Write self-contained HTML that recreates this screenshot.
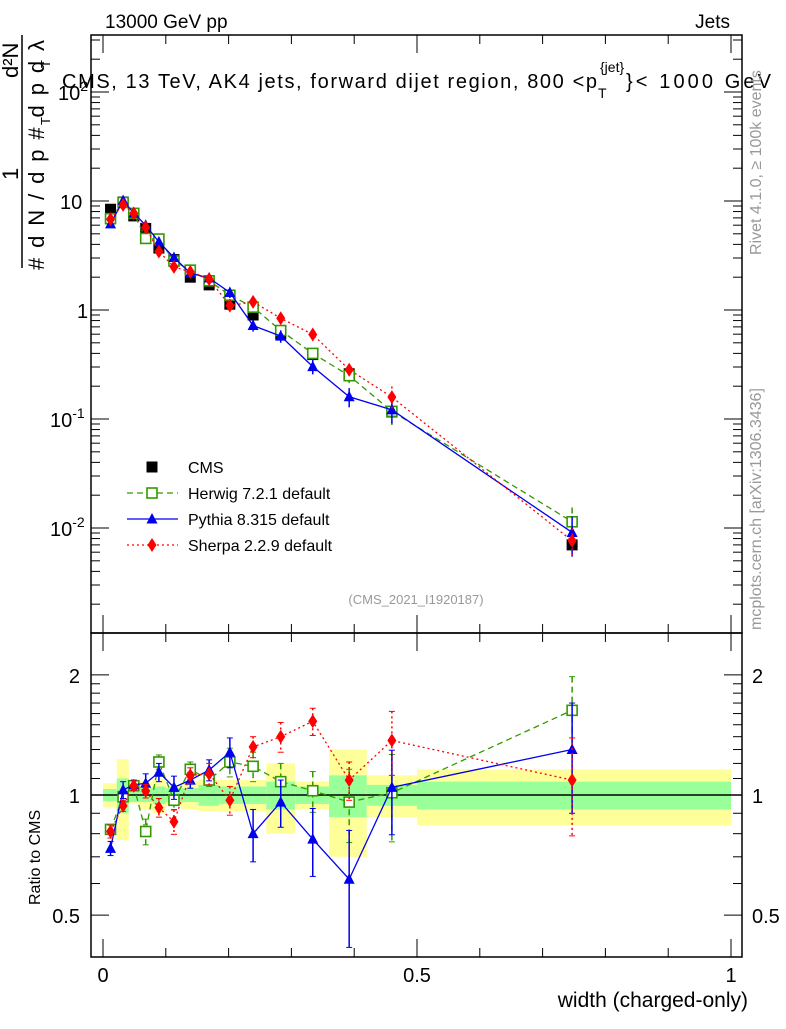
<!DOCTYPE html>
<html><head><meta charset="utf-8"><style>
body{margin:0;background:#fff;width:786px;height:1024px;overflow:hidden}
svg{font-family:"Liberation Sans",sans-serif}
</style></head><body>
<svg id="c" width="786" height="1024" xmlns="http://www.w3.org/2000/svg"></svg>
<script>
const xcent=[0.012,0.032,0.049,0.068,0.089,0.113,0.139,0.169,0.202,0.239,0.283,0.334,0.392,0.460,0.747];
const edges=[0,0.022,0.041,0.058,0.079,0.1,0.125,0.152,0.185,0.22,0.26,0.306,0.36,0.42,0.5,1.0];
const cms=[8.4,9.8,7.3,5.6,3.7,2.9,2.0,1.7,1.13,0.9,0.6,0.39,0.26,0.116,0.007];
const herwigR=[0.82,0.99,1.055,0.81,1.21,0.97,1.16,1.09,1.21,1.18,1.08,1.025,0.96,1.013,1.63];
const pythiaR=[0.735,1.03,1.06,1.07,1.14,1.045,1.09,1.155,1.28,0.80,0.96,0.775,0.615,1.045,1.30];
const sherpaR=[0.81,0.94,1.055,1.023,0.93,0.857,1.12,1.13,0.97,1.32,1.40,1.53,1.09,1.37,1.09];
const herwigE=[0.02,0.03,0.03,0.06,0.05,0.05,0.05,0.04,0.1,0.1,0.12,0.12,0.2,0.25,0.35];
const pythiaE=[0.03,0.05,0.03,0.06,0.06,0.07,0.05,0.07,0.11,0.12,0.13,0.15,0.2,0.25,0.4];
const sherpaE=[0.03,0.03,0.03,0.04,0.05,0.06,0.05,0.07,0.08,0.08,0.12,0.12,0.12,0.25,0.3];
const greenB=[0.035,0.1,0.04,0.04,0.05,0.04,0.04,0.06,0.05,0.05,0.08,0.05,0.12,0.06,0.08];
const yellowB=[0.07,0.23,0.05,0.08,0.1,0.06,0.08,0.09,0.09,0.09,0.2,0.08,0.3,0.12,0.16];
const xTicks=[0,0.5,1];
const xTickLabels=["0","0.5","1"];

const svg=document.getElementById('c');
const NS='http://www.w3.org/2000/svg';
function el(t,a,txt){const e=document.createElementNS(NS,t);for(const k in a)e.setAttribute(k,a[k]);if(txt!==undefined)e.textContent=txt;svg.appendChild(e);return e;}
const L=91,R=742,T=35,M=633,B=957;
const X=v=>103+628*v;
const Y=v=>310-109*Math.log10(v);
const YR=r=>795-399*Math.log10(r);

for(let i=0;i<xcent.length;i++){
 let r=el('rect',{x:X(edges[i]),y:YR(1+yellowB[i]),width:X(edges[i+1])-X(edges[i]),height:YR(1-yellowB[i])-YR(1+yellowB[i]),fill:'#ffff99'});
 
 let g=el('rect',{x:X(edges[i]),y:YR(1+greenB[i]),width:X(edges[i+1])-X(edges[i]),height:YR(1-greenB[i])-YR(1+greenB[i]),fill:'#99ff99'});
 
}
let ol=el('line',{x1:L,x2:R,y1:795,y2:795,stroke:'#000','stroke-width':1.5});


let f1=el('rect',{x:L,y:T,width:R-L,height:M-T,fill:'none',stroke:'#000','stroke-width':1.5});

let f2=el('rect',{x:L,y:M,width:R-L,height:B-M,fill:'none',stroke:'#000','stroke-width':1.5});


for(let d=-3;d<=2;d++){for(let m=1;m<10;m++){const v=m*Math.pow(10,d);const y=Y(v);if(y<T||y>M)continue;const len=m==1?18:9;
 el('line',{x1:L,x2:L+len,y1:y,y2:y,stroke:'#000'});el('line',{x1:R,x2:R-len,y1:y,y2:y,stroke:'#000'});}}
const yl=[[100,'10','2'],[10,'10',''],[1,'1',''],[0.1,'10','-1'],[0.01,'10','-2']];
yl.forEach(a=>{const t=el('text',{x:a[2]==='2'?58:(a[2]?50:(a[1]=='1'?77:60)),y:Y(a[0])+8,'font-size':20});
 t.textContent=a[1]; if(a[2]){const s=document.createElementNS(NS,'tspan');s.setAttribute('dy','-9');s.setAttribute('font-size','14');s.textContent=a[2];t.appendChild(s);}});
[0.5,0.6,0.7,0.8,0.9,1,1.1,1.2,1.3,1.4,1.5,1.6,1.7,1.8,1.9,2].forEach(v=>{const y=YR(v);const big=(v==0.5||v==1||v==2);const len=big?18:9;
 el('line',{x1:L,x2:L+len,y1:y,y2:y,stroke:'#000'});el('line',{x1:R,x2:R-len,y1:y,y2:y,stroke:'#000'});});
[[2,'2'],[1,'1'],[0.5,'0.5']].forEach(a=>{
 let t=el('text',{x:80,y:YR(a[0])+8,'font-size':20,'text-anchor':'end'},a[1]);
 let t2=el('text',{x:752,y:YR(a[0])+8,'font-size':20},a[1]);});
for(let v=0;v<=1.0001;v+=0.1){const big=Math.abs(v-Math.round(v*2)/2)<1e-6;const len=big?18:9;
 el('line',{x1:X(v),x2:X(v),y1:B,y2:B-len,stroke:'#000'});el('line',{x1:X(v),x2:X(v),y1:M,y2:M+len,stroke:'#000'});el('line',{x1:X(v),x2:X(v),y1:T,y2:T+len,stroke:'#000'});el('line',{x1:X(v),x2:X(v),y1:M,y2:M-len,stroke:'#000'});}
xTicks.forEach((v,i)=>{let t=el('text',{x:X(v),y:982,'font-size':20,'text-anchor':'middle'},xTickLabels[i]);});

function marker(kind,x,y,col,name){
 let e;
 if(kind=='sq') e=el('rect',{x:x-5.5,y:y-5.5,width:11,height:11,fill:'#000'});
 else if(kind=='osq') e=el('rect',{x:x-5,y:y-5,width:10,height:10,fill:'#fff',stroke:col,'stroke-width':1.6});
 else if(kind=='tri') e=el('polygon',{points:`${x},${y-6} ${x-5.5},${y+4.5} ${x+5.5},${y+4.5}`,fill:col});
 else e=el('polygon',{points:`${x},${y-7} ${x-4.5},${y} ${x},${y+7} ${x+4.5},${y}`,fill:col});
 
}
const series=[
 {r:herwigR,e:herwigE,col:'#339900',dash:'6,4',kind:'osq',name:'herwig'},
 {r:pythiaR,e:pythiaE,col:'#0000ee',dash:'',kind:'tri',name:'pythia'},
 {r:sherpaR,e:sherpaE,col:'#ff0000',dash:'2,3',kind:'dia',name:'sherpa'}];
xcent.forEach((x,i)=>{const v=cms[i];el('line',{x1:X(x),x2:X(x),y1:Y(v*1.05),y2:Y(v*0.95),stroke:'#000','stroke-width':1.5});marker('sq',X(x),Y(v),'#000','cms-point');});
series.forEach(s=>{
 const pts=xcent.map((x,i)=>X(x)+','+Y(cms[i]*s.r[i])).join(' ');
 let pl=el('polyline',{points:pts,fill:'none',stroke:s.col,'stroke-width':1.3,'stroke-dasharray':s.dash});
 
 const rp=xcent.map((x,i)=>X(x)+','+YR(s.r[i])).join(' ');
 let pr=el('polyline',{points:rp,fill:'none',stroke:s.col,'stroke-width':1.3,'stroke-dasharray':s.dash});
 
 xcent.forEach((x,i)=>{const v=cms[i]*s.r[i],e=s.e[i];
  el('line',{x1:X(x),x2:X(x),y1:Y(v*(1+e)),y2:Y(v*(1-e)),stroke:s.col,'stroke-width':1.5,'stroke-dasharray':s.dash});
  el('line',{x1:X(x),x2:X(x),y1:YR(s.r[i]+e),y2:YR(s.r[i]-e),stroke:s.col,'stroke-width':1.5,'stroke-dasharray':s.dash});
  [s.r[i]+e,s.r[i]-e].forEach(q=>el('line',{x1:X(x)-3,x2:X(x)+3,y1:YR(q),y2:YR(q),stroke:s.col}));
  marker(s.kind,X(x),Y(v),s.col,s.name+'-point');
  marker(s.kind,X(x),YR(s.r[i]),s.col,s.name+'-ratio-point');
 });
});
const leg=[['CMS','sq','#000',''],['Herwig 7.2.1 default','osq','#339900','6,4'],['Pythia 8.315 default','tri','#0000ee',''],['Sherpa 2.2.9 default','dia','#ff0000','2,3']];
leg.forEach((l,i)=>{const y=467+26*i;
 if(i>0){let ln=el('line',{x1:127,x2:178,y1:y,y2:y,stroke:l[2],'stroke-width':1.3,'stroke-dasharray':l[3]});}
 marker(l[1],152,y,l[2],'legend-marker');
 let t=el('text',{x:188,y:y+6,'font-size':16},l[0]);});
function txt(a,s,name){let t=el('text',a,s);return t;}
txt({x:105,y:28,'font-size':19},'13000 GeV pp','energy-label');
txt({x:730,y:28,'font-size':19,'text-anchor':'end'},'Jets','process-label');
txt({x:62,y:88,'font-size':20,textLength:535,lengthAdjust:'spacing'},'CMS, 13 TeV, AK4 jets, forward dijet region, 800 <p','plot-title');
txt({x:598,y:98,'font-size':14},'T','plot-title-sub');
txt({x:600,y:72,'font-size':14},'{jet}','plot-title-sup');
txt({x:626,y:88,'font-size':20,textLength:145,lengthAdjust:'spacing'},'}< 1000 GeV','plot-title-end');
txt({x:416,y:604,'font-size':13,fill:'#999','text-anchor':'middle'},'(CMS_2021_I1920187)','analysis-id');
txt({x:0,y:0,'font-size':16,fill:'#999',transform:'translate(761,255) rotate(-90)'},'Rivet 4.1.0, ≥ 100k events','rivet-label');
txt({x:0,y:0,'font-size':16,fill:'#999',transform:'translate(761,630) rotate(-90)'},'mcplots.cern.ch [arXiv:1306.3436]','mcplots-label');
txt({x:748,y:1007,'font-size':21,'text-anchor':'end'},'width (charged-only)','x-axis-title');
txt({x:0,y:0,'font-size':16,transform:'translate(40,905) rotate(-90)'},'Ratio to CMS','ratio-axis-title');
txt({x:0,y:0,'font-size':22,transform:'translate(44,270) rotate(-90)',textLength:230,lengthAdjust:'spacing'},'# d N / d p  # d p  d λ','y-axis-title-denominator');
txt({x:0,y:0,'font-size':13,transform:'translate(50,125) rotate(-90)'},'T','y-axis-sub1');
txt({x:0,y:0,'font-size':13,transform:'translate(50,68) rotate(-90)'},'T','y-axis-sub2');
let bar=el('line',{x1:22,x2:22,y1:35,y2:268,stroke:'#000','stroke-width':1.5});

txt({x:0,y:0,'font-size':22,transform:'translate(18,180) rotate(-90)'},'1','y-axis-title-one');
txt({x:0,y:0,'font-size':22,transform:'translate(18,78) rotate(-90)'},'d²N','y-axis-title-numerator');
</script>
</body></html>
